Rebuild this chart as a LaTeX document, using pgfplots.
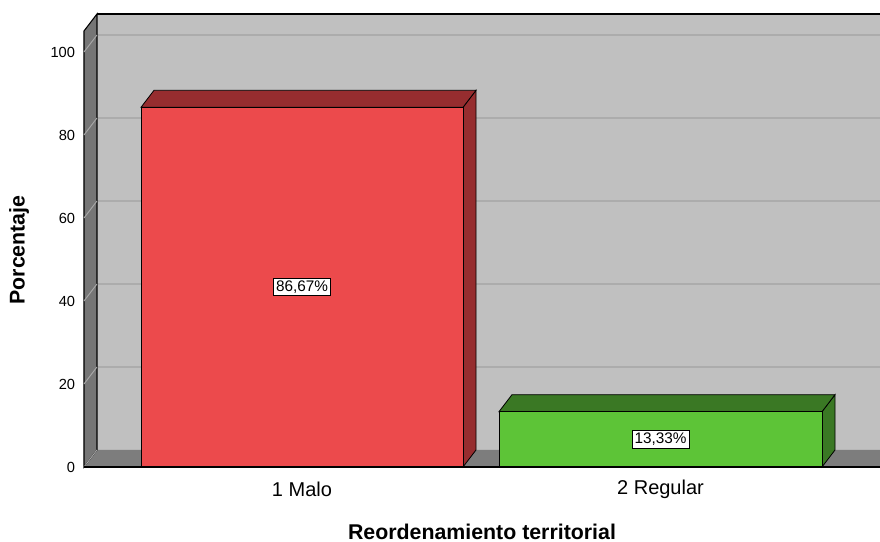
\documentclass[border=0pt]{standalone}
\usepackage{pgfplots}
\pgfplotsset{compat=1.18}
\usepackage{fontspec}
\setmainfont{Liberation Sans}
\definecolor{wallbg}{HTML}{C0C0C0}
\definecolor{sidewall}{HTML}{767676}
\definecolor{floorc}{HTML}{7D7D7D}
\definecolor{redf}{HTML}{EC4A4C}
\definecolor{redd}{HTML}{962D2F}
\definecolor{greenf}{HTML}{5DC437}
\definecolor{greend}{HTML}{3A7824}
\definecolor{gridc}{HTML}{ACACAC}
\definecolor{sidegrid}{HTML}{A8A8A8}
\begin{document}
\begin{tikzpicture}
\begin{axis}[
  scale only axis, width=597pt, height=339.75pt,
  xmin=84, xmax=880, ymin=0, ymax=109.16,
  clip=false,
  axis line style={draw=none},
  major tick length=0pt,
  ytick={0,20,40,60,80,100},
  yticklabel style={anchor=east, inner sep=0pt, xshift=-6.5pt, font=\fontsize{11}{13}\selectfont},
  xtick={302,660.5},
  xticklabels={1 Malo, 2 Regular},
  xticklabel style={anchor=center, inner sep=0pt, yshift=-17pt, font=\fontsize{15}{18}\selectfont},
  /pgf/number format/assume math mode=true,
]
% back wall
\addplot[fill=wallbg, draw=none] coordinates {(97,4.1) (880,4.1) (880,109.16) (97,109.16)} -- cycle;
% back wall gridlines
\addplot[gridc, line width=0.8pt] coordinates {(97,24.1) (880,24.1)};
\addplot[gridc, line width=0.8pt] coordinates {(97,44.1) (880,44.1)};
\addplot[gridc, line width=0.8pt] coordinates {(97,64.1) (880,64.1)};
\addplot[gridc, line width=0.8pt] coordinates {(97,84.1) (880,84.1)};
\addplot[gridc, line width=0.8pt] coordinates {(97,104.1) (880,104.1)};
% floor
\addplot[fill=floorc, draw=none] coordinates {(84,0) (880,0) (880,4.1) (97,4.1)} -- cycle;
% left wall
\addplot[fill=sidewall, draw=black, line width=0.8pt] coordinates {(84,0) (97,4.1) (97,109.16) (84,105.06)} -- cycle;
\addplot[sidegrid, line width=0.7pt] coordinates {(84,20) (97,24.1)};
\addplot[sidegrid, line width=0.7pt] coordinates {(84,40) (97,44.1)};
\addplot[sidegrid, line width=0.7pt] coordinates {(84,60) (97,64.1)};
\addplot[sidegrid, line width=0.7pt] coordinates {(84,80) (97,84.1)};
\addplot[sidegrid, line width=0.7pt] coordinates {(84,100) (97,104.1)};
\addplot[sidegrid, line width=0.7pt] coordinates {(84,0) (97,4.1)};
% top edge
\addplot[black, line width=0.8pt] coordinates {(97,109.16) (880,109.16)};
% red bar: 1 Malo = 86.67
\addplot[fill=redd, draw=black, line width=0.6pt] coordinates {(463,0) (476,4.1) (476,90.77) (463,86.67)} -- cycle;
\addplot[fill=redd, draw=black, line width=0.6pt] coordinates {(141,86.67) (463,86.67) (476,90.77) (154,90.77)} -- cycle;
\addplot[fill=redf, draw=black, line width=0.6pt] coordinates {(141,0) (463,0) (463,86.67) (141,86.67)} -- cycle;
% green bar: 2 Regular = 13.33
\addplot[fill=greend, draw=black, line width=0.6pt] coordinates {(822,0) (835,4.1) (835,17.43) (822,13.33)} -- cycle;
\addplot[fill=greend, draw=black, line width=0.6pt] coordinates {(499,13.33) (822,13.33) (835,17.43) (512,17.43)} -- cycle;
\addplot[fill=greenf, draw=black, line width=0.6pt] coordinates {(499,0) (822,0) (822,13.33) (499,13.33)} -- cycle;
% front bottom line
\addplot[black, line width=0.8pt] coordinates {(84,0) (880,0)};
% data labels
\addplot[draw=none, mark=none, point meta=explicit symbolic,
  nodes near coords,
  nodes near coords style={anchor=center, draw=black, fill=white, inner sep=1.8pt, line width=0.6pt, font=\fontsize{11.5}{13}\selectfont}]
  coordinates {(302,43.335) [86,67\%] (660.5,6.665) [13,33\%]};
\node[rotate=90, inner sep=0pt, font=\bfseries\fontsize{16}{19}\selectfont] at (axis cs:19,52.3) {Porcentaje};
\node[inner sep=0pt, font=\bfseries\fontsize{16}{19}\selectfont] at (axis cs:482,-15.6) {Reordenamiento territorial};
\coordinate (bl) at (axis cs:0,-18.07);
\coordinate (tr) at (axis cs:880,112.53);
\end{axis}
\pgfresetboundingbox
\path[use as bounding box] (bl) rectangle (tr);
\end{tikzpicture}
\end{document}
